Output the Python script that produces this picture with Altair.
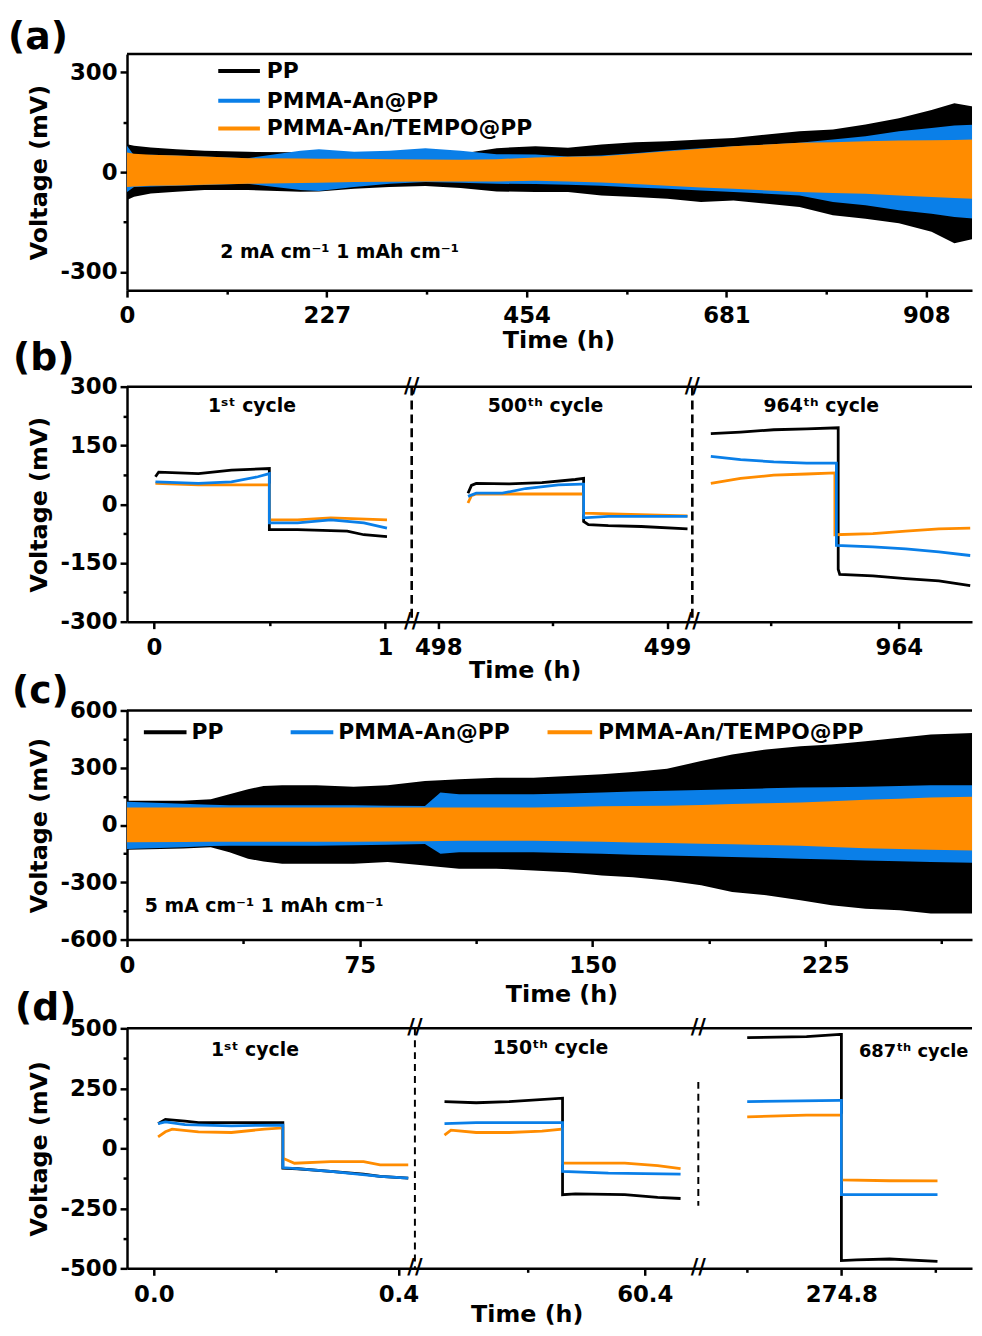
import altair as alt
import pandas as pd

FONT = "DejaVu Sans"
SERIES = ["PP", "PMMA-An@PP", "PMMA-An/TEMPO@PP"]
COLORS = ["#000000", "#0A7FE8", "#FF8C00"]

# ---------------- (a) 2 mA cm-2 : voltage envelope (mV) vs time (h)
A_T = [0, 8, 27, 56, 88, 137, 197, 218, 258, 298, 339, 379, 420, 464, 501, 539,
       577, 614, 652, 689, 727, 764, 802, 839, 877, 914, 940, 964]
A_PP_HI = [84, 79, 74, 69, 64, 61, 60, 62, 60, 56, 56, 55, 72, 78, 73, 83,
           90, 93, 98, 103, 113, 123, 128, 143, 162, 187, 207, 196]
A_PP_LO = [-84, -74, -64, -59, -54, -54, -59, -58, -50, -45, -42, -48, -58, -60, -60, -70,
           -75, -80, -90, -85, -95, -105, -130, -140, -154, -179, -214, -199]
A_AN_HI = [79, 50, 52, 50, 47, 42, 64, 69, 61, 64, 72, 64, 54, 53, 47, 50,
           57, 65, 72, 78, 83, 88, 98, 108, 123, 133, 140, 143]
A_AN_LO = [-60, -45, -43, -41, -39, -35, -54, -57, -45, -35, -30, -32, -35, -36, -38, -41,
           -46, -50, -55, -60, -65, -70, -90, -100, -115, -125, -135, -140]
A_TE_HI = [59, 55, 52, 50, 47, 42, 41, 40, 40, 39, 38, 37, 39, 44, 46, 48,
           55, 63, 70, 78, 83, 88, 90, 93, 95, 96, 97, 98]
A_TE_LO = [-45, -43, -41, -40, -38, -35, -33, -32, -30, -29, -28, -28, -28, -26, -28, -31,
           -36, -41, -46, -50, -55, -60, -63, -65, -70, -75, -78, -80]
A_X_MAJOR = [0, 227, 454, 681, 908]
A_X_MINOR = [113.5, 340.5, 567.5, 794.5]
A_Y_MAJOR = [-300, 0, 300]
A_Y_MINOR = [-150, 150]

# ---------------- (c) 5 mA cm-2 : voltage envelope (mV) vs time (h)
C_T = [0, 18, 27, 33, 39, 44, 50, 61, 73, 84, 96, 101, 107, 119, 131, 142,
       153, 163, 174, 185, 195, 206, 217, 227, 238, 249, 259, 275]
C_PP_HI = [127, 127, 135, 161, 188, 205, 208, 208, 201, 208, 231, 235, 240, 248, 248, 257,
           266, 278, 295, 335, 370, 396, 413, 422, 439, 457, 474, 483]
C_PP_LO = [-129, -123, -116, -142, -177, -191, -203, -203, -203, -194, -212, -220, -229, -229, -238, -247,
           -264, -273, -290, -316, -351, -368, -394, -420, -438, -446, -464, -464]
C_AN_HI = [122, 112, 106, 104, 104, 104, 104, 104, 103, 101, 99, 170, 161, 161, 161, 165,
           170, 175, 179, 184, 188, 192, 196, 198, 201, 205, 208, 208]
C_AN_LO = [-125, -116, -110, -108, -108, -108, -108, -108, -106, -103, -99, -151, -142, -142, -142, -147,
           -151, -156, -160, -164, -168, -172, -177, -181, -186, -190, -194, -198]
C_TE_HI = [92, 92, 92, 92, 92, 92, 92, 92, 92, 92, 92, 92, 92, 92, 92, 95,
           98, 100, 101, 105, 110, 114, 118, 125, 132, 138, 144, 149]
C_TE_LO = [-90, -89, -88, -88, -87, -87, -87, -87, -87, -86, -85, -84, -83, -82, -82, -85,
           -88, -91, -94, -98, -101, -105, -108, -115, -122, -126, -129, -134]
C_X_MAJOR = [0, 75, 150, 225]
C_X_MINOR = [37.5, 112.5, 187.5, 262.5]
C_Y_MAJOR = [-600, -300, 0, 300, 600]
C_Y_MINOR = [-450, -150, 150, 450]

# ---------------- (b) single cycles at 2 mA cm-2 (time h, voltage mV), per axis segment
B_PP_T = [[0.007, 0.021, 0.193, 0.336, 0.5, 0.5, 0.622, 0.837, 0.909, 1.009],
          [498.13, 498.145, 498.166, 498.31, 498.453, 498.599, 498.635, 498.635, 498.656, 498.743, 498.887, 499.089],
          [963.268, 963.384, 963.513, 963.641, 963.764, 963.764, 963.77, 963.899, 964.027, 964.156, 964.278]]
B_PP_V = [[70, 82, 78, 87, 91, -65, -65, -69, -78, -83],
          [28, 48, 53, 52, 55, 63, 66, -44, -52, -55, -57, -63],
          [180, 184, 190, 192, 195, -166, -179, -183, -190, -196, -208]]
B_AN_T = [[0.007, 0.193, 0.336, 0.45, 0.5, 0.5, 0.622, 0.766, 0.909, 1.009],
          [498.13, 498.166, 498.28, 498.382, 498.525, 498.627, 498.635, 498.635, 498.743, 499.089],
          [963.268, 963.384, 963.513, 963.641, 963.757, 963.757, 963.899, 964.027, 964.156, 964.278]]
B_AN_V = [[57, 53, 57, 70, 78, -48, -48, -40, -48, -61],
          [20, 28, 28, 40, 49, 51, 51, -35, -31, -31],
          [122, 114, 108, 105, 105, -105, -109, -114, -122, -131]]
B_TE_T = [[0.007, 0.193, 0.336, 0.5, 0.5, 0.622, 0.766, 1.009],
          [498.13, 498.145, 498.166, 498.627, 498.635, 498.635, 499.089],
          [963.268, 963.384, 963.513, 963.641, 963.751, 963.751, 963.899, 964.027, 964.156, 964.278]]
B_TE_V = [[53, 49, 49, 49, -40, -40, -35, -40],
          [3, 22, 26, 26, 26, -23, -30],
          [53, 66, 74, 77, 80, -78, -75, -69, -63, -61]]
B_SEG_T = [(-0.116, 1.116), (497.884, 499.110), (963.196, 964.285)]
B_SEG_F = [0.0, 0.3369, 0.6690, 1.0]
B_X_MAJOR = [(0, 0), (0, 1), (1, 498), (1, 499), (2, 964)]
B_X_LABELS = ["0", "1", "498", "499", "964"]
B_X_MINOR = [(0, 0.5), (1, 498.5), (2, 963.5)]
B_Y_MAJOR = [-300, -150, 0, 150, 300]
B_Y_MINOR = [-225, -75, 75, 225]
B_CYCLES = ["1ˢᵗ cycle", "500ᵗʰ cycle", "964ᵗʰ cycle"]

# ---------------- (d) single cycles at 5 mA cm-2
D_PP_T = [[0.007, 0.019, 0.051, 0.073, 0.127, 0.211, 0.211, 0.235, 0.289, 0.343, 0.37, 0.416],
          [60.059, 60.113, 60.169, 60.26, 60.26, 60.282, 60.366, 60.422, 60.461],
          [274.6, 274.726, 274.797, 274.8, 274.8, 274.832, 274.902, 275.004]]
D_PP_V = [[103, 121, 113, 107, 107, 107, -83, -85, -96, -107, -117, -124],
          [195, 190, 195, 209, -193, -190, -193, -204, -209],
          [461, 465, 475, 475, -468, -465, -461, -471]]
D_AN_T = [[0.007, 0.019, 0.051, 0.127, 0.211, 0.211, 0.289, 0.37, 0.416],
          [60.059, 60.113, 60.26, 60.26, 60.338, 60.461],
          [274.6, 274.797, 274.8, 274.8, 275.004]]
D_AN_V = [[103, 110, 99, 94, 97, -80, -96, -117, -124],
          [103, 107, 107, -96, -103, -107],
          [195, 200, 200, -193, -193]]
D_TE_T = [[0.007, 0.019, 0.03, 0.073, 0.127, 0.181, 0.211, 0.211, 0.23, 0.289, 0.343, 0.37, 0.416],
          [60.059, 60.07, 60.113, 60.169, 60.225, 60.26, 60.26, 60.282, 60.366, 60.422, 60.461],
          [274.6, 274.726, 274.793, 274.8, 274.8, 274.902, 275.004]]
D_TE_V = [[48, 69, 80, 69, 66, 80, 85, -41, -62, -55, -55, -69, -69],
          [55, 76, 66, 66, 72, 80, -62, -62, -62, -72, -85],
          [131, 138, 138, 138, -131, -135, -136]]
D_SEG_T = [(-0.0438, 0.4269), (60.0086, 60.4912), (274.4962, 275.0773)]
D_SEG_F = [0.0, 0.3407, 0.6761, 1.0]
D_X_MAJOR = [(0, 0.0), (0, 0.4), (1, 60.4), (2, 274.8)]
D_X_LABELS = ["0.0", "0.4", "60.4", "274.8"]
D_X_MINOR = [(0, 0.2), (1, 60.2), (2, 274.6), (2, 275.0)]
D_Y_MAJOR = [-500, -250, 0, 250, 500]
D_Y_MINOR = [-375, -125, 125, 375]
D_CYCLES = ["1ˢᵗ cycle", "150ᵗʰ cycle", "687ᵗʰ cycle"]

# ---------------- layout constants
W = 852
HA, HB, HC, HD = 238, 237, 231, 242
ONE = pd.DataFrame({"k": [0]})


def seg_u(k, t, segs, fr):
    a, b = segs[k]
    return round(fr[k] + (t - a) / (b - a) * (fr[k + 1] - fr[k]), 6)


def near(v):
    return f"abs(datum.value - ({v})) < 1e-6"


def label_expr(vals, labels):
    expr = "''"
    for v, lab in reversed(list(zip(vals, labels))):
        expr = f"{near(v)} ? '{lab}' : ({expr})"
    return expr


def make_axis(orient, major, minor, labels, title, tx, ty):
    vals = sorted(major + minor)
    test = " || ".join(near(v) for v in minor)
    kw = dict(orient=orient, values=vals, labelExpr=label_expr(major, labels),
              tickSize={"condition": {"test": test, "value": 4}, "value": 7},
              title=title, titleX=tx, titleY=ty, titleAlign="center",
              titleBaseline="middle", labelFlush=False, labelOverlap=False,
              grid=False, domain=True)
    kw["titleAngle"] = 270 if orient == "left" else 0
    return alt.Axis(**kw)


def txt(s, x, y, size, align="left"):
    return alt.Chart(ONE).mark_text(text=s, align=align, baseline="middle", font=FONT,
                                    fontSize=size, fontWeight="bold", color="black").encode(
        x=alt.value(x), y=alt.value(y))


def top_line():
    return alt.Chart(ONE).mark_rule(color="black", strokeWidth=2.5).encode(
        x=alt.value(0), x2=alt.value(W), y=alt.value(0))


def legend_entry(x1, x2, y, xt, label, color):
    r = alt.Chart(ONE).mark_rule(color=color, strokeWidth=4).encode(
        x=alt.value(x1), x2=alt.value(x2), y=alt.value(y))
    return [r, txt(label, xt, y, 22)]


def envelope_panel(T, envs, xdom, ydom, xaxis, yaxis):
    xs = alt.Scale(domain=xdom, nice=False, zero=False)
    ys = alt.Scale(domain=ydom, nice=False, zero=False)
    layers = []
    for i, (hi, lo) in enumerate(envs):
        df = pd.DataFrame({"t": T, "hi": hi, "lo": lo})
        layers.append(alt.Chart(df).mark_area(color=COLORS[i], clip=True, interpolate="linear").encode(
            x=alt.X("t:Q", scale=xs, axis=xaxis),
            y=alt.Y("hi:Q", scale=ys, axis=yaxis),
            y2="lo:Q"))
    return layers


def cycle_panel(data, segs, fr, ydom, xaxis, yaxis):
    rows = []
    for s, (TT, VV) in zip(SERIES, data):
        idx = 0
        for k, (ts, vs) in enumerate(zip(TT, VV)):
            for t, v in zip(ts, vs):
                rows.append(dict(series=s, seg=k, idx=idx, t=t, v=v, u=seg_u(k, t, segs, fr)))
                idx += 1
    df = pd.DataFrame(rows)
    xs = alt.Scale(domain=[0, 1], nice=False, zero=False)
    ys = alt.Scale(domain=ydom, nice=False, zero=False)
    layers = []
    for i in [0, 2, 1]:
        layers.append(alt.Chart(df).transform_filter(alt.datum.series == SERIES[i]).mark_line(
            color=COLORS[i], strokeWidth=2.8, clip=True).encode(
            x=alt.X("u:Q", scale=xs, axis=xaxis),
            y=alt.Y("v:Q", scale=ys, axis=yaxis),
            detail="seg:N", order="idx:Q"))
    return layers, xs


def break_marks(fr, xs, xaxis, H, dash, width, partial=None):
    bdf = pd.DataFrame({"u": fr[1:3], "n": [0, 1]})
    layers = []
    for j in range(2):
        sub = bdf[bdf["n"] == j]
        if partial is not None and j == 1:
            layers.append(alt.Chart(sub).mark_rule(color="black", strokeWidth=width, strokeDash=dash).encode(
                x=alt.X("u:Q", scale=xs, axis=xaxis), y=alt.value(partial[0]), y2=alt.value(partial[1])))
        else:
            layers.append(alt.Chart(sub).mark_rule(color="black", strokeWidth=width, strokeDash=dash).encode(
                x=alt.X("u:Q", scale=xs, axis=xaxis)))
    for yy in [0, H]:
        layers.append(alt.Chart(bdf).mark_text(text="//", font=FONT, fontSize=21, fontWeight="bold",
                                               color="black", align="center", baseline="middle").encode(
            x=alt.X("u:Q", scale=xs, axis=xaxis), y=alt.value(yy)))
    return layers


# ---------------- panel (a)
ax_a = make_axis("bottom", A_X_MAJOR, A_X_MINOR, [str(v) for v in A_X_MAJOR], "Time (h)", 435, 51)
ay_a = make_axis("left", A_Y_MAJOR, A_Y_MINOR, [str(v) for v in A_Y_MAJOR], "Voltage (mV)", -88, HA / 2)
la = envelope_panel(A_T, [(A_PP_HI, A_PP_LO), (A_AN_HI, A_AN_LO), (A_TE_HI, A_TE_LO)],
                    [0, 960], [-355, 355], ax_a, ay_a)
la += [top_line(), txt("(a)", -120, -16, 38)]
la += legend_entry(92, 134, 17, 141, SERIES[0], COLORS[0])
la += legend_entry(92, 134, 47, 141, SERIES[1], COLORS[1])
la += legend_entry(92, 134, 75, 141, SERIES[2], COLORS[2])
la += [txt("2 mA cm⁻¹ 1 mAh cm⁻¹", 94, 200, 19)]
pa = alt.layer(*la).properties(width=W, height=HA)

# ---------------- panel (b)
bx_major = [seg_u(k, t, B_SEG_T, B_SEG_F) for k, t in B_X_MAJOR]
bx_minor = [seg_u(k, t, B_SEG_T, B_SEG_F) for k, t in B_X_MINOR]
ax_b = make_axis("bottom", bx_major, bx_minor, B_X_LABELS, "Time (h)", 401, 49)
ay_b = make_axis("left", B_Y_MAJOR, B_Y_MINOR, [str(v) for v in B_Y_MAJOR], "Voltage (mV)", -88, HB / 2)
lb, xsb = cycle_panel([(B_PP_T, B_PP_V), (B_AN_T, B_AN_V), (B_TE_T, B_TE_V)],
                      B_SEG_T, B_SEG_F, [-300, 300], ax_b, ay_b)
lb += break_marks(B_SEG_F, xsb, ax_b, HB, [9, 5], 2.6)
lb += [top_line(), txt("(b)", -115, -28, 38)]
lb += [txt(B_CYCLES[0], 126, 20, 19, "center"), txt(B_CYCLES[1], 422, 20, 19, "center"),
       txt(B_CYCLES[2], 700, 20, 19, "center")]
pb = alt.layer(*lb).properties(width=W, height=HB)

# ---------------- panel (c)
ax_c = make_axis("bottom", C_X_MAJOR, C_X_MINOR, [str(v) for v in C_X_MAJOR], "Time (h)", 438, 55)
ay_c = make_axis("left", C_Y_MAJOR, C_Y_MINOR, [str(v) for v in C_Y_MAJOR], "Voltage (mV)", -88, HC / 2)
lc = envelope_panel(C_T, [(C_PP_HI, C_PP_LO), (C_AN_HI, C_AN_LO), (C_TE_HI, C_TE_LO)],
                    [0, 272.3], [-600, 600], ax_c, ay_c)
lc += [top_line(), txt("(c)", -116, -19, 38)]
lc += legend_entry(17, 60, 22, 65, SERIES[0], COLORS[0])
lc += legend_entry(165, 208, 22, 213, SERIES[1], COLORS[1])
lc += legend_entry(424, 469, 22, 475, SERIES[2], COLORS[2])
lc += [txt("5 mA cm⁻¹ 1 mAh cm⁻¹", 18, 197, 19)]
pc = alt.layer(*lc).properties(width=W, height=HC)

# ---------------- panel (d)
dx_major = [seg_u(k, t, D_SEG_T, D_SEG_F) for k, t in D_X_MAJOR]
dx_minor = [seg_u(k, t, D_SEG_T, D_SEG_F) for k, t in D_X_MINOR]
ax_d = make_axis("bottom", dx_major, dx_minor, D_X_LABELS, "Time (h)", 403, 47)
ay_d = make_axis("left", D_Y_MAJOR, D_Y_MINOR, [str(v) for v in D_Y_MAJOR], "Voltage (mV)", -88, HD / 2)
ld, xsd = cycle_panel([(D_PP_T, D_PP_V), (D_AN_T, D_AN_V), (D_TE_T, D_TE_V)],
                      D_SEG_T, D_SEG_F, [-500, 500], ax_d, ay_d)
ld += break_marks(D_SEG_F, xsd, ax_d, HD, [7, 5], 2, partial=(54, 179))
ld += [top_line(), txt("(d)", -113, -19, 38)]
ld += [txt(D_CYCLES[0], 129, 22, 19, "center"), txt(D_CYCLES[1], 427, 20, 19, "center"),
       txt(D_CYCLES[2], 738, 24, 18, "left")]
pd_ = alt.layer(*ld).properties(width=W, height=HD)

inner = alt.vconcat(pb, pc, pd_, spacing=89.5, bounds="flush")
chart = alt.vconcat(pa, inner, spacing=97.3, bounds="flush").properties(
    padding={"left": 0, "top": 6, "right": 0, "bottom": 0}
).configure_view(stroke=None).configure_axis(
    labelFont=FONT, labelFontSize=23, labelFontWeight="bold", labelColor="black",
    titleFont=FONT, titleFontSize=24, titleFontWeight="bold", titleColor="black",
    domainColor="black", domainWidth=2.5, tickColor="black", tickWidth=2.5
).configure_axisX(labelPadding=8).configure_axisY(labelPadding=3)

chart.save("out.html", embed_options={"renderer": "svg", "actions": False})
